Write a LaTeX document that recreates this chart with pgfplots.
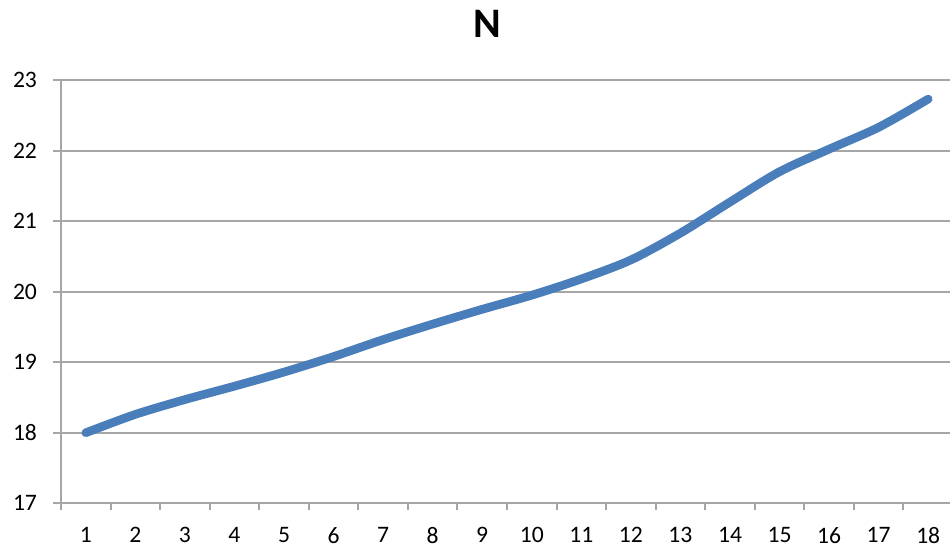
\documentclass[border=0pt]{standalone}
\usepackage{pgfplots}
\pgfplotsset{compat=1.18}
\usepackage{fontspec}
\setmainfont{Carlito}

\definecolor{seriesblue}{HTML}{4A7EBB}
\definecolor{gridgray}{HTML}{A6A6A6}

\pgfplotstableread{
x  N
1  18.00
2  18.26
3  18.47
4  18.66
5  18.86
6  19.08
7  19.32
8  19.54
9  19.75
10 19.95
11 20.18
12 20.45
13 20.83
14 21.27
15 21.70
16 22.02
17 22.33
18 22.73
}\datatable

\begin{document}
\begin{tikzpicture}
\begin{axis}[
  at={(0,0)}, anchor=south west,
  scale only axis,
  width=446pt, height=211.65pt,
  xmin=0.5, xmax=18.5,
  ymin=17, ymax=23,
  axis x line*=bottom,
  axis y line*=left,
  axis line style={draw=gridgray, line width=1pt, -},
  xtick={1,...,18},
  minor xtick={0.5,1.5,...,18.5},
  ytick={17,...,23},
  ymajorgrids,
  grid style={draw=gridgray, line width=1pt},
  tick align=outside,
  major tick length=4pt,
  minor tick length=3.5pt,
  xtick style={draw=none},
  minor x tick style={draw=gridgray, line width=1pt},
  ytick style={draw=gridgray, line width=1pt},
  tick label style={font=\fontsize{11.8}{14}\selectfont, text=black},
  /pgf/number format/assume math mode=true,
  xticklabel style={yshift=-4.5pt},
  yticklabel style={xshift=-4.5pt},
  clip=false,
]
\addplot[seriesblue, line width=4.3pt, smooth, tension=0.5, line cap=round] table[x=x, y=N] {\datatable};
\node[anchor=center, inner sep=0pt, font=\fontsize{21}{24}\selectfont\bfseries]
  at (rel axis cs:0.4776,1.1335) {N};
\end{axis}
\pgfresetboundingbox
\path[use as bounding box] (-30.5pt,-22.35pt) rectangle (444.5pt,251.65pt);
\end{tikzpicture}
\end{document}
